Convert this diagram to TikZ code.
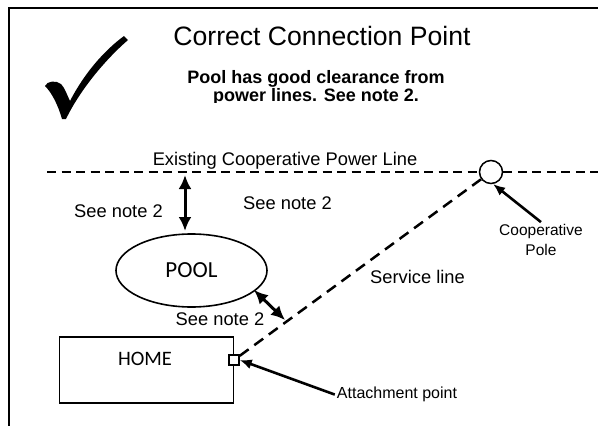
\documentclass[tikz,border=0pt]{standalone}
\usepackage{fontspec}
\setmainfont{Liberation Sans}
\newfontfamily\calfont{Carlito}
\usetikzlibrary{arrows.meta,positioning,shapes}
\tikzset{
     title node/.style={font=\fontsize{26.6}{30}\selectfont, inner sep=0pt},
     sub node/.style={font=\bfseries\fontsize{18}{18}\selectfont, align=center, inner sep=0pt},
     note node/.style={font=\fontsize{18.3}{22}\selectfont, inner sep=2pt},
     hint node/.style={font=\fontsize{16}{19}\selectfont, inner sep=2pt},
     pole note/.style={font=\fontsize{15.5}{20}\selectfont, align=center, inner sep=2pt},
     place node/.style={font=\calfont\fontsize{23}{26}\selectfont, inner sep=0pt},
      pool shape/.style = {draw, ellipse, line width=1.6pt, minimum width=151pt, minimum height=73pt, inner sep=0pt},
      home shape/.style = {draw, rectangle, line width=1.8pt, minimum width=174pt, minimum height=66pt, inner sep=0pt},
      pole shape/.style = {draw, circle, line width=1.5pt, minimum size=23pt, inner sep=0pt, fill=white},
      attach shape/.style = {draw, rectangle, line width=1.5pt, minimum size=10pt, inner sep=0pt, fill=white},
      power line/.style = {black, line width=1.4pt, dash pattern=on 9pt off 5.5pt},
      service line/.style = {black, line width=2.5pt, dash pattern=on 11pt off 7pt},
      clearance/.style = {black, <->, line width=3pt, >={Latex[length=14pt,width=13pt]}},
      pointer/.style = {black, ->, line width=2.6pt, >={Latex[length=12pt,width=10pt]}},
    }

\begin{document}
\begin{tikzpicture}[x=1pt,y=-1pt]
    \useasboundingbox (0,0) rectangle (598,426);
    % frame
    \draw[line width=2pt] (598,8) -- (9,8) -- (9,426);

    % check mark
    \fill (45,86) .. controls (47,81) and (56,80) .. (61,84)
        .. controls (65,88) and (67,95) .. (70,101)
        .. controls (85,72) and (105,50) .. (124,36) -- (128,40)
        .. controls (105,60) and (80,90) .. (66,119) -- (62,119)
        .. controls (58,105) and (52,93) .. (45,86) -- cycle;

    % headings
    \node [title node, anchor=base] (title) at (322,45) {Correct Connection Point};
    \begin{scope}
        \clip (0,0) rectangle (598,102);
        \node [sub node] (subtitle) at (316,87.5) {Pool has good clearance from\\power lines. See note 2.};
    \end{scope}

    % pole, pool, home
    \node [pole shape] (pole) at (491,172) {};
    \node [pool shape, place node] (pool) at (191.5,270.5) {POOL};
    \node [home shape] (home) at (146.5,370) {};
    \node [place node, font=\calfont\fontsize{20.5}{24}\selectfont, anchor=base] (homeTxt) at (145,365) {HOME};
    \node [attach shape] (att) at (234,360) {};

    % texts
    \node [note node, anchor=base] (lineTxt) at (285,165) {Existing Cooperative Power Line};
    \node [note node, anchor=base] (noteLeft) at (118.5,217.6) {See note 2};
    \node [note node, anchor=base] (noteRight) at (287.5,209.6) {See note 2};
    \node [note node, anchor=base] (noteLow) at (220,325.6) {See note 2};
    \node [note node, anchor=base] (serviceTxt) at (417.5,283.6) {Service line};
    \node [hint node, anchor=base] (attTxt) at (397,398.7) {Attachment point};
    \node [pole note] (poleTxt) at (541,240) {Cooperative\\Pole};

    \coordinate (lineW) at (47,172);
    \coordinate (lineE) at (598,172);
    \coordinate (gapTop) at (185,175);
    \coordinate (gapBot) at (185,231);
    \coordinate (sideA) at (254,290);
    \coordinate (sideB) at (285,320);

    \draw[power line] (lineW) -- (pole.west);
    \draw[power line] (pole.east) -- (lineE);
    \draw[service line] (att) -- (pole);

    \path[clearance]
    (gapTop) edge (gapBot)
    (sideA) edge (sideB);

    \path[pointer]
    (poleTxt.north) edge (pole.-80)
    (attTxt.west) edge (att.east);
\end{tikzpicture}
\end{document}
